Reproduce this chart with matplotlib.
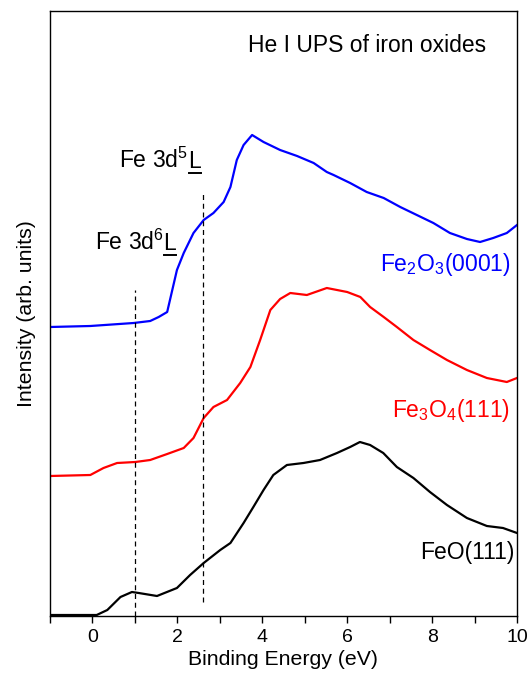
import numpy as np
import matplotlib
matplotlib.use('Agg')
import matplotlib.pyplot as plt
from matplotlib.ticker import MultipleLocator
from matplotlib.lines import Line2D

matplotlib.rcParams['font.family'] = ['Liberation Sans', 'DejaVu Sans']
matplotlib.rcParams['mathtext.fontset'] = 'custom'
matplotlib.rcParams['mathtext.rm'] = 'Liberation Sans'
matplotlib.rcParams['mathtext.it'] = 'Liberation Sans'
matplotlib.rcParams['mathtext.default'] = 'regular'

# FeO(111)
e_feo = [-1, 0.1, 0.35, 0.66, 0.93, 1.09, 1.52, 1.99, 2.3, 2.62, 3.01, 3.25, 3.56, 3.79,
         4.03, 4.26, 4.58, 4.97, 5.36, 5.76, 6.07, 6.3, 6.54, 6.85, 7.17, 7.56, 7.95,
         8.35, 8.82, 9.29, 9.67, 10.0]
i_feo = [1, 1, 6, 19, 24, 23, 20, 28, 41, 53, 66, 73, 93, 109, 126, 141, 151, 153, 156,
         163, 169, 174, 171, 163, 149, 138, 124, 111, 98, 90, 88, 83]

# Fe3O4(111)
e_fe3o4 = [-1, -0.05, 0.26, 0.58, 1.01, 1.36, 1.76, 2.15, 2.38, 2.62, 2.85, 3.17, 3.48,
           3.72, 3.95, 4.19, 4.42, 4.66, 5.05, 5.52, 6.0, 6.31, 6.54, 6.86, 7.17, 7.56,
           7.95, 8.35, 8.82, 9.29, 9.76, 10.0]
i_fe3o4 = [140, 141, 148, 153, 154, 156, 162, 168, 178, 198, 209, 216, 233, 249, 276,
           306, 317, 323, 321, 328, 324, 319, 309, 299, 289, 276, 266, 256, 246, 238,
           234, 238]

# Fe2O3(0001)
e_fe2o3 = [-1, -0.05, 0.97, 1.36, 1.56, 1.76, 1.99, 2.15, 2.38, 2.62, 2.85, 3.09, 3.25,
           3.4, 3.56, 3.76, 4.03, 4.42, 4.82, 5.21, 5.52, 5.68, 6.07, 6.46, 6.86, 7.25,
           7.64, 8.03, 8.42, 8.82, 9.13, 9.44, 9.76, 10.0]
i_fe2o3 = [289, 290, 293, 295, 299, 304, 346, 363, 383, 396, 403, 414, 429, 456, 471,
           481, 474, 466, 460, 453, 444, 441, 433, 424, 418, 409, 401, 393, 383, 377,
           374, 378, 383, 391]

# marker lines (energy, top, bottom)
mark_e = [1.0, 2.6]
mark_top = [326, 424]
mark_bot = [0, 14]

fig = plt.figure(figsize=(5.28, 6.74), dpi=100)
ax = fig.add_axes([50/528, 1-616/674, 467/528, 605/674])

ax.plot(e_feo, i_feo, color='black', lw=1.6)
ax.plot(e_fe3o4, i_fe3o4, color='red', lw=1.6)
ax.plot(e_fe2o3, i_fe2o3, color='blue', lw=1.6)
ax.vlines(mark_e, mark_bot, mark_top, colors='black', linestyles=(0, (4, 3)), lw=0.9)

ax.set_xlim(-1, 10)
ax.set_ylim(0, 605)
ax.set_yticks([])
ax.xaxis.set_major_locator(MultipleLocator(2))
ax.xaxis.set_minor_locator(MultipleLocator(1))
ax.tick_params(axis='x', which='both', direction='out', length=5, width=1,
               labelsize=14, pad=4)
for s in ax.spines.values():
    s.set_linewidth(1.0)

ax.set_xlabel('Binding Energy (eV)', fontsize=15.3, labelpad=3)
ax.set_ylabel('Intensity (arb. units)', fontsize=15.3, labelpad=10)

ax.text(6.47, 570, 'He I UPS of iron oxides', fontsize=16.5, ha='center', va='center')
ax.text(9.84, 351, r'Fe$_2$O$_3$(0001)', fontsize=16.5, ha='right', va='center', color='blue')
ax.text(9.84, 206, r'Fe$_3$O$_4$(111)', fontsize=16.5, ha='right', va='center', color='red')
ax.text(9.95, 63, 'FeO(111)', fontsize=16.5, ha='right', va='center', color='black')

# "Fe 3d^n L" labels, L underlined (mathtext has no \underline)
ligand = []
for x, y, n in [(2.26, 448, 5), (1.67, 366, 6)]:
    ax.text(x, y, r'Fe 3d$^%d$' % n, fontsize=16.5, ha='right', va='baseline')
    tl = ax.text(x, y, 'L', fontsize=16.5, ha='left', va='baseline')
    ligand.append((tl, x, y))

fig.canvas.draw()
for tl, x, y in ligand:
    bb = tl.get_window_extent()
    yb = ax.transData.transform((x, y))[1] - 5
    p0 = fig.transFigure.inverted().transform((bb.x0 + 0.5, yb))
    p1 = fig.transFigure.inverted().transform((bb.x1 - 0.5, yb))
    fig.add_artist(Line2D([p0[0], p1[0]], [p0[1], p1[1]], color='black', lw=1.4))

fig.savefig('out.png', dpi=100)
